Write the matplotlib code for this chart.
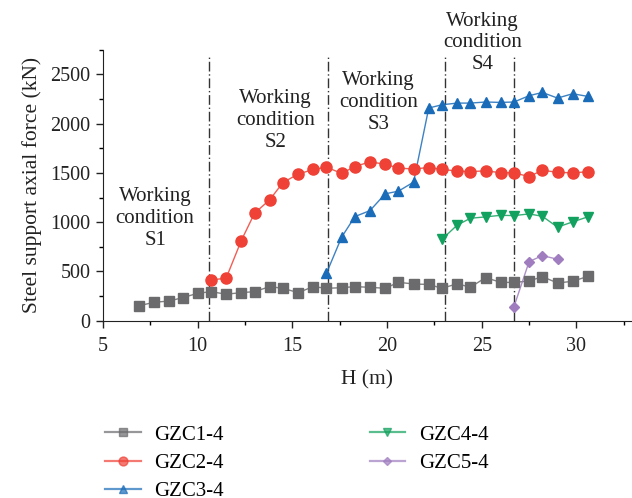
import matplotlib.pyplot as plt
from matplotlib.ticker import MultipleLocator

plt.rcParams['font.family'] = ['Liberation Serif', 'DejaVu Serif']

# excavation depth H (m) at each monitoring step
h_all = [6.9, 7.7, 8.5, 9.2, 10.0, 10.7, 11.5, 12.3, 13.0, 13.8, 14.5, 15.3,
         16.1, 16.8, 17.6, 18.3, 19.1, 19.9, 20.6, 21.4, 22.2, 22.9, 23.7,
         24.4, 25.2, 26.0, 26.7, 27.5, 28.2, 29.0, 29.8, 30.6]

# axial force of each support (kN)
gzc1 = [152, 187, 200, 234, 278, 295, 269, 285, 295, 346, 329, 285, 346, 329,
        335, 346, 339, 329, 390, 373, 368, 329, 375, 340, 437, 390, 388, 403,
        447, 383, 400, 450]
gzc2 = [414, 431, 813, 1091, 1227, 1402, 1488, 1535, 1559, 1495, 1565, 1613,
        1588, 1549, 1540, 1555, 1536, 1519, 1514, 1521, 1503, 1501, 1463, 1528,
        1506, 1501, 1512]
gzc3 = [482, 848, 1057, 1118, 1288, 1315, 1407, 2159, 2192, 2209, 2209, 2220,
        2216, 2220, 2284, 2317, 2260, 2304, 2277]
gzc4 = [827, 970, 1040, 1054, 1070, 1067, 1084, 1060, 950, 1003, 1054]
gzc5 = [142, 600, 661, 624]

# depth where each working condition begins
stage_h = [10.6, 16.9, 23.05, 26.7]
stage_labels = ['Working\ncondition\nS1', 'Working\ncondition\nS2',
                'Working\ncondition\nS3', 'Working\ncondition\nS4']
stage_label_pos = [(7.75, 1035), (14.1, 2035), (19.55, 2215), (25.05, 2820)]

series = [
    ('GZC1-4', h_all, gzc1, '#6b6b6e', 's', 7),
    ('GZC2-4', h_all[5:], gzc2, '#ef4136', 'o', 8),
    ('GZC3-4', h_all[13:], gzc3, '#1b6cb8', '^', 7.5),
    ('GZC4-4', h_all[21:], gzc4, '#12a15e', 'v', 7.5),
    ('GZC5-4', h_all[26:30], gzc5, '#9f7dbf', 'D', 5.5),
]

fig = plt.figure(figsize=(6.32, 4.98), dpi=100)
ax = fig.add_axes([0.163, 0.356, 0.836, 0.544])

handles = []
for name, x, y, c, m, ms in series:
    ax.plot(x, y, '-', color=c, lw=1.0, alpha=0.85, zorder=2)
    ax.plot(x, y, ls='none', marker=m, ms=ms, color=c, mec=c, zorder=3)
    h, = plt.plot([], [], '-', color=c, lw=1.6, alpha=0.7, marker=m,
                  ms=ms * 0.8, mfc=c, mec=c)
    handles.append((h, name))

ax.vlines(stage_h, 0, 2700, colors='#333333', linestyles=(0, (7, 2, 1, 2)),
          lw=1.0, zorder=1)

for (tx, ty), lab in zip(stage_label_pos, stage_labels):
    ax.text(tx, ty, lab, ha='center', va='center', fontsize=15,
            linespacing=1.2, color='#222222', clip_on=False)

ax.set_xlim(5, 32.9)
ax.set_ylim(0, 2750)
ax.xaxis.set_major_locator(MultipleLocator(5))
ax.xaxis.set_minor_locator(MultipleLocator(2.5))
ax.yaxis.set_major_locator(MultipleLocator(500))
ax.yaxis.set_minor_locator(MultipleLocator(250))
ax.set_xticks([5, 10, 15, 20, 25, 30])
ax.tick_params(which='major', direction='out', length=5, width=1,
               labelsize=14.5, colors='#222222')
ax.tick_params(axis='x', which='major', pad=7)
ax.tick_params(axis='y', which='major', pad=4)
ax.tick_params(which='minor', direction='out', length=3, width=1)
for s in ['top', 'right']:
    ax.spines[s].set_visible(False)
for s in ['left', 'bottom']:
    ax.spines[s].set_color('#222222')

ax.set_xlabel('H (m)', fontsize=15.5, color='#222222', labelpad=10)
ax.set_ylabel('Steel support axial force (kN)', fontsize=15.5,
              color='#222222', labelpad=6)

fig.legend([h for h, _ in handles], [n for _, n in handles], ncol=2,
           loc='upper left', bbox_to_anchor=(0.137, 0.184),
           frameon=False, fontsize=15, handlelength=1.7, columnspacing=7.0,
           labelspacing=0.41, handletextpad=0.65)

fig.savefig('out.png', dpi=100)
